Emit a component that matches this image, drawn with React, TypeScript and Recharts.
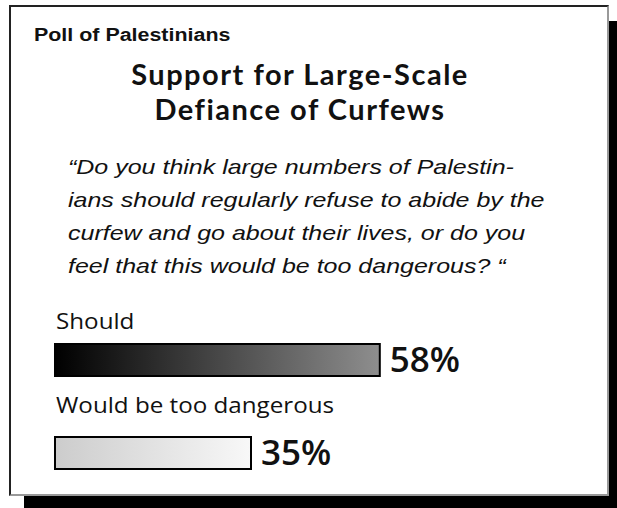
import { Bar, BarChart, LabelList, XAxis, YAxis } from "recharts";

// values
const categories = ["Should", "Would be too dangerous"];
const shares = [58, 35];

const kicker = "Poll of Palestinians";
const titleLines = ["Support for Large-Scale", "Defiance of Curfews"];
const questionLines = [
  "\u201cDo you think large numbers of Palestin-",
  "ians should regularly refuse to abide by the",
  "curfew and go about their lives, or do you",
  "feel that this would be too dangerous? \u201c",
];

const rows = categories.map((name, i) => ({ name, value: shares[i] }));

// left->right gradient stops per bar
const GRADIENTS: [string, string][] = [
  ["#000000", "#8e8e8e"],
  ["#cccccc", "#f8f8f8"],
];
const NAME_GAP = [15, 24];

const W = 617;
const H = 508;
// the source art is stretched sideways a bit
const STRETCH = 1.19;

function GradientBar(props: any) {
  const { x, y, width, height, index } = props;
  const [from, to] = GRADIENTS[index % GRADIENTS.length];
  const id = `bar-grad-${index}`;
  return (
    <g>
      <defs>
        <linearGradient id={id} x1="0" y1="0" x2="1" y2="0">
          <stop offset="0%" stopColor={from} />
          <stop offset="100%" stopColor={to} />
        </linearGradient>
      </defs>
      <rect x={x} y={y} width={width} height={height} fill={`url(#${id})`} stroke="#000" strokeWidth={2} />
    </g>
  );
}

function NameLabel(props: any) {
  const { x, y, value, index } = props;
  const tx = x + 1;
  const ty = y - NAME_GAP[index];
  return (
    <g transform={`translate(${tx},${ty}) scale(1.1,1)`}>
      <text x={0} y={0} fontFamily="Open Sans" fontSize={22} fill="#111">
        {value}
      </text>
    </g>
  );
}

function ValueLabel(props: any) {
  const { x, y, width, height, value } = props;
  return (
    <text
      x={x + width + 10}
      y={y + height - 4}
      fontFamily="Open Sans"
      fontWeight={600}
      fontSize={35}
      fill="#111"
    >
      {value}%
    </text>
  );
}

export default function App() {
  return (
    <div style={{ position: "absolute", left: 0, top: 0, width: W, height: H, overflow: "hidden", background: "#fff" }}>
      {/* drop shadow */}
      <div style={{ position: "absolute", left: 24, top: 21, width: 620, height: 520, background: "#000" }} />
      {/* card */}
      <div
        style={{
          position: "absolute",
          left: 9,
          top: 5,
          width: 596,
          height: 487,
          background: "#fff",
          borderTop: "2px solid #222",
          borderLeft: "2px solid #222",
          borderRight: "2px solid #999",
          borderBottom: "2px solid #999",
        }}
      />
      <div
        style={{
          position: "absolute",
          left: 34,
          top: 25,
          fontFamily: "Liberation Sans, Arial, sans-serif",
          fontWeight: 700,
          fontSize: 18,
          lineHeight: "20px",
          color: "#111",
          whiteSpace: "pre",
          transform: `scaleX(${STRETCH})`,
          transformOrigin: "left top",
        }}
      >
        {kicker}
      </div>
      <div
        style={{
          position: "absolute",
          left: 0,
          width: 600,
          top: 56,
          textAlign: "center",
          fontFamily: "Lato",
          fontWeight: 700,
          fontSize: 29,
          letterSpacing: 1.5,
          lineHeight: "35px",
          color: "#111",
        }}
      >
        {titleLines.map((t) => (
          <div key={t}>{t}</div>
        ))}
      </div>
      <div
        style={{
          position: "absolute",
          left: 68,
          top: 150,
          fontFamily: "Liberation Sans, Arial, sans-serif",
          fontStyle: "italic",
          fontSize: 21,
          lineHeight: "33px",
          color: "#111",
          whiteSpace: "pre",
          transform: `scaleX(${STRETCH})`,
          transformOrigin: "left top",
        }}
      >
        {questionLines.map((t) => (
          <div key={t}>{t}</div>
        ))}
      </div>
      <div style={{ position: "absolute", left: 0, top: 0 }}>
        <BarChart
          width={W}
          height={H}
          data={rows}
          layout="vertical"
          margin={{ top: 313, right: 2, bottom: 9, left: 55 }}
          barSize={32}
        >
          <XAxis type="number" domain={[0, 100]} hide />
          <YAxis type="category" dataKey="name" hide />
          <Bar dataKey="value" shape={GradientBar} isAnimationActive={false}>
            <LabelList dataKey="name" content={NameLabel} />
            <LabelList dataKey="value" content={ValueLabel} />
          </Bar>
        </BarChart>
      </div>
    </div>
  );
}
